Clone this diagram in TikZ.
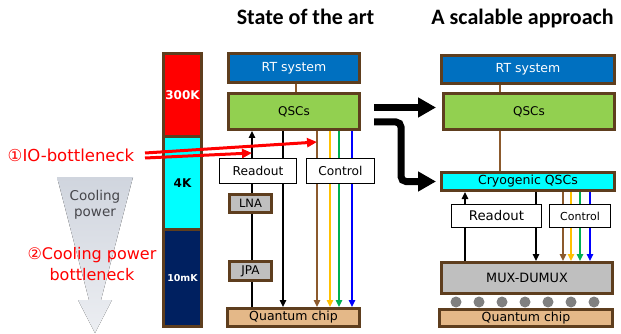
\documentclass[tikz,border=0pt]{standalone}
\usepackage{fontspec}
\setmainfont{DejaVu Sans}
\newfontfamily\titlefont{Carlito}
\usetikzlibrary{arrows.meta,calc}

\definecolor{brd}{RGB}{94,62,30}
\definecolor{lbrown}{RGB}{140,90,45}
\definecolor{lorange}{RGB}{255,192,0}
\definecolor{lgreen}{RGB}{0,176,80}
\definecolor{lblue}{RGB}{0,0,255}
\definecolor{rtblue}{RGB}{0,112,192}
\definecolor{qgreen}{RGB}{146,208,80}
\definecolor{chiptan}{RGB}{228,184,136}
\definecolor{boxgray}{RGB}{191,191,191}
\definecolor{navy}{RGB}{0,32,96}
\definecolor{aqua}{RGB}{0,255,255}
\definecolor{hotred}{RGB}{255,0,0}
\definecolor{coolA}{RGB}{208,213,222}
\definecolor{coolB}{RGB}{236,238,242}
\definecolor{coolTxt}{RGB}{70,70,75}
\definecolor{dotgray}{RGB}{128,128,128}

\pgfdeclarelayer{bg}
\pgfsetlayers{bg,main}

\begin{document}
\begin{tikzpicture}[x=1pt,y=-1pt,
  brdbox/.style={draw=brd, line width=3pt, inner sep=0pt},
  thinbox/.style={draw=black, line width=1pt, fill=white, inner sep=0pt},
  tempseg/.style={inner sep=0pt, outer sep=0pt, minimum width=38pt, font=\bfseries},
  sig/.style={line width=1.3pt},
  tipA/.style={-{Triangle[length=7pt,width=6.5pt]}},
  bigarrow/.style={line width=7pt, -{Triangle[length=18pt,width=19pt]}},
  redarrow/.style={draw=hotred, line width=3pt, -{Triangle[length=10pt,width=9pt]}},
  fs/.style={font=\fontsize{#1}{#1}\selectfont}
]
\useasboundingbox (0,0) rectangle (621,334);

% titles
\node[font=\titlefont\bfseries\fontsize{22}{26}\selectfont, anchor=base] (title1) at (305.5,25) {State of the art};
\node[font=\titlefont\bfseries\fontsize{22}{26}\selectfont, anchor=base] (title2) at (522.5,25) {A scalable approach};

% cooling power arrow
\fill[top color=coolA, bottom color=coolB]
  (57,177) -- (133,177) -- (101,300) -- (112,300) -- (95,333) -- (78,300) -- (89,300) -- cycle;
\node[align=center, text=coolTxt, font=\fontsize{13.5}{16.5}\selectfont] (cool) at (95,205) {Cooling\\power};

% bottleneck labels
\node[text=hotred, font=\fontsize{16.5}{20}\selectfont] (io) at (71,155) {①IO-bottleneck};
\node[text=hotred, align=center, font=\fontsize{16}{21}\selectfont] (cpb) at (92,264) {②Cooling power\\bottleneck};

% temperature stages
\node[tempseg, fill=hotred, text=white, minimum height=83.5pt, fs=12] (t300) at (182.5,95.25) {\bfseries 300K};
\node[tempseg, fill=aqua, text=black, minimum height=92.5pt, fs=12] (t4) at (182.5,183.25) {\bfseries 4K};
\node[tempseg, fill=navy, text=white, minimum height=97pt, fs=9.5] (t10) at (182.5,278) {\bfseries 10mK};
\draw[brd, line width=3pt] (t300.north west) rectangle (t10.south east);
\draw[brd, line width=3pt] (t300.south west) -- (t300.south east);
\draw[brd, line width=3pt] (t4.south west) -- (t4.south east);

% ---------- state of the art ----------
\node[brdbox, fill=rtblue, text=white, minimum width=131pt, minimum height=29pt, fs=12.5] (rtL) at (294,68) {RT system};
\node[brdbox, fill=qgreen, minimum width=131pt, minimum height=36pt, fs=12] (qscL) at (294,111.5) {QSCs};
\node[thinbox, minimum width=77pt, minimum height=25pt, fs=12.2] (roL) at (258,171) {Readout};
\node[thinbox, minimum width=68pt, minimum height=25pt, fs=12.2] (ctL) at (340.5,171) {Control};
\node[brdbox, fill=boxgray, minimum width=42pt, minimum height=18pt, fs=11.5] (lna) at (250.5,203.5) {LNA};
\node[brdbox, fill=boxgray, minimum width=42pt, minimum height=19pt, fs=12] (jpa) at (250.5,271) {JPA};
\node[brdbox, fill=chiptan, minimum width=132pt, minimum height=18pt, fs=12.5] (chipL) at (293.5,317.5) {Quantum chip};

% ---------- scalable approach ----------
\node[brdbox, fill=rtblue, text=white, minimum width=173pt, minimum height=28pt, fs=12.5] (rtR) at (528,69.5) {RT system};
\node[brdbox, fill=qgreen, minimum width=171pt, minimum height=36pt, fs=12] (qscR) at (529,111.5) {QSCs};
\node[brdbox, fill=aqua, minimum width=173pt, minimum height=18pt, fs=12.5] (cryo) at (528,181.5) {Cryogenic QSCs};
\node[thinbox, minimum width=90pt, minimum height=23pt, fs=13.3] (roR) at (496.5,216) {Readout};
\node[thinbox, minimum width=61pt, minimum height=23pt, fs=11] (ctR) at (580,216) {Control};
\node[brdbox, fill=boxgray, minimum width=171pt, minimum height=31pt, fs=12.8] (mux) at (527,278) {MUX-DUMUX};
\node[brdbox, fill=chiptan, minimum width=173pt, minimum height=17pt, fs=12.5] (chipR) at (526,318) {Quantum chip};
\foreach \i in {0,...,6} {
  \fill[dotgray] (456+23*\i,302) circle[radius=5.5pt];
}

% signal lines, behind the boxes
\begin{pgfonlayer}{bg}
  \coordinate (xRtL) at (296,0);
  \coordinate (xRoL) at (252,0);
  \coordinate (xBkL) at (283,0);
  \draw[lbrown, line width=1.5pt] (rtL.south -| xRtL) -- (qscL.north -| xRtL);
  \draw[sig, tipA] (chipL.north -| xRoL) -- (qscL.south -| xRoL);
  \draw[sig, tipA] (qscL.south -| xBkL) -- (chipL.north -| xBkL);
  \foreach \xx/\cc in {317/lbrown,330/lorange,339/lgreen,352/lblue} {
    \coordinate (xc) at (\xx,0);
    \draw[sig, tipA, \cc] (qscL.south -| xc) -- (chipL.north -| xc);
  }

  \coordinate (xRtR) at (500,0);
  \coordinate (xRoR) at (465,0);
  \coordinate (xBkR) at (536,0);
  \draw[lbrown, line width=1.5pt] (rtR.south -| xRtR) -- (qscR.north -| xRtR);
  \draw[lbrown, line width=1.5pt] (qscR.south -| xRtR) -- (cryo.north -| xRtR);
  \draw[sig, tipA] (mux.north -| xRoR) -- (cryo.south -| xRoR);
  \draw[sig, tipA] (cryo.south -| xBkR) -- (mux.north -| xBkR);
  \foreach \xx/\cc in {563/lbrown,571/lorange,580/lgreen,590/lblue} {
    \coordinate (xc) at (\xx,0);
    \draw[sig, tipA, \cc] (cryo.south -| xc) -- (mux.north -| xc);
  }
\end{pgfonlayer}

% transition arrows between the two columns
\coordinate (bend) at (401,0);
\draw[bigarrow] ([xshift=13pt,yshift=4pt]qscL.east) -- ([xshift=-6pt,yshift=4pt]qscR.west);
\draw[bigarrow, rounded corners=5pt] ([xshift=13pt,yshift=-10.5pt]qscL.east) -| (bend |- cryo.west) -- ([xshift=-4pt]cryo.west);

% IO bottleneck arrows
\coordinate (ioA) at (145,153);
\coordinate (ioB) at (145,158);
\coordinate (ioEndA) at (317,142);
\coordinate (ioEndB) at (252,153);
\draw[redarrow] (ioA) -- (ioEndA);
\draw[redarrow] (ioB) -- (ioEndB);

\end{tikzpicture}
\end{document}
